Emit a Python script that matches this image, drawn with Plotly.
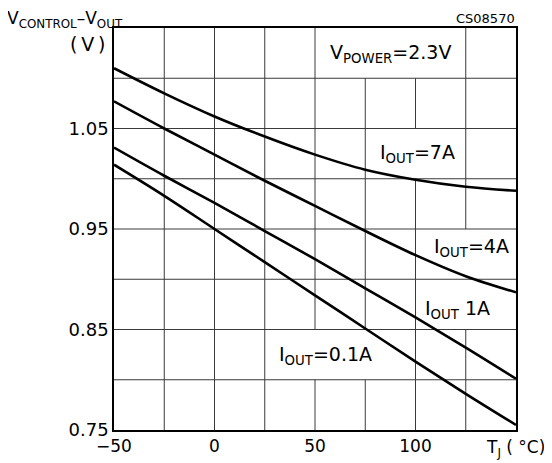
import plotly.graph_objects as go

tj = [-50, -25, 0, 25, 50, 75, 100, 125, 150]
i_7a = [1.110, 1.085, 1.062, 1.042, 1.024, 1.009, 0.999, 0.992, 0.988]
i_4a = [1.077, 1.050, 1.024, 0.998, 0.973, 0.948, 0.924, 0.903, 0.887]
i_1a = [1.031, 1.003, 0.976, 0.948, 0.920, 0.891, 0.862, 0.832, 0.801]
i_01a = [1.014, 0.983, 0.950, 0.917, 0.884, 0.851, 0.818, 0.786, 0.755]

x_ticks = [-50, 0, 50, 100]
y_ticks = [0.75, 0.85, 0.95, 1.05]

FONT = "DejaVu Sans"
fig = go.Figure()
for ys in [i_7a, i_4a, i_1a, i_01a]:
    fig.add_trace(go.Scatter(x=tj, y=ys, mode="lines",
                             line=dict(color="black", width=2.6, shape="spline", smoothing=1.0),
                             showlegend=False, hoverinfo="skip"))

fig.update_layout(
    width=552, height=463,
    margin=dict(l=106, r=44, t=20, b=41),
    paper_bgcolor="white", plot_bgcolor="white",
    font=dict(family=FONT, size=17, color="black"),
    xaxis=dict(range=[-50, 150], tickvals=x_ticks, ticktext=[str(v).replace("-", "−") for v in x_ticks],
               showgrid=False, zeroline=False, showline=True, linecolor="black", linewidth=1.6, mirror=True,
               ticks="", tickfont=dict(size=17), fixedrange=True),
    yaxis=dict(range=[0.75, 1.15], tickvals=y_ticks, ticktext=[f"{v:.2f}" for v in y_ticks],
               showgrid=False, zeroline=False, showline=True, linecolor="black", linewidth=1.6, mirror=True,
               ticks="", tickfont=dict(size=18), fixedrange=True),
)

# grid: horizontal lines every 0.05, vertical every 25 (segments hidden behind labels)
skip = {(75, 7), (100, 7), (100, 5), (125, 3), (125, 2), (50, 1), (75, 1)}
GRID = dict(color="#3a3a3a", width=1)
for k in range(1, 8):
    gy = 0.75 + 0.05 * k
    fig.add_shape(type="line", x0=-50, x1=150, y0=gy, y1=gy, xref="x", yref="y", line=GRID, layer="below")
for gx in range(-25, 150, 25):
    for row in range(8):
        if (gx, row) in skip:
            continue
        fig.add_shape(type="line", x0=gx, x1=gx, y0=0.75 + 0.05 * row, y1=0.80 + 0.05 * row,
                      xref="x", yref="y", line=GRID, layer="below")

def ann(x, y, text):
    fig.add_annotation(x=x, y=y, xref="x", yref="y", text=text, showarrow=False,
                       xanchor="left", yanchor="middle", font=dict(family=FONT, size=19, color="black"))

ann(56.5, 1.1251, "V<sub>POWER</sub>=2.3V")
ann(81.3, 1.0256, "I<sub>OUT</sub>=7A")
ann(108.2, 0.9311, "I<sub>OUT</sub>=4A")
ann(103.7, 0.8699, "I<sub>OUT</sub> 1A")
ann(31.0, 0.8241, "I<sub>OUT</sub>=0.1A")

def pann(x, y, text, xanchor, size):
    fig.add_annotation(x=x, y=y, xref="paper", yref="paper", text=text, showarrow=False,
                       xanchor=xanchor, yanchor="middle", font=dict(family=FONT, size=size, color="black"))

pann(-0.2711, 1.0200, "V<sub>CONTROL</sub>–V<sub>OUT</sub>", "left", 17)
pann(-0.0174, 0.9600, "(\u2009V\u2009)", "right", 19)
pann(1.0025, 1.0240, "CS08570", "right", 13)
pann(1.0771, -0.0448, "T<sub>J</sub> ( °C)", "right", 17)

fig.write_html("out.html", config={"displayModeBar": False})
